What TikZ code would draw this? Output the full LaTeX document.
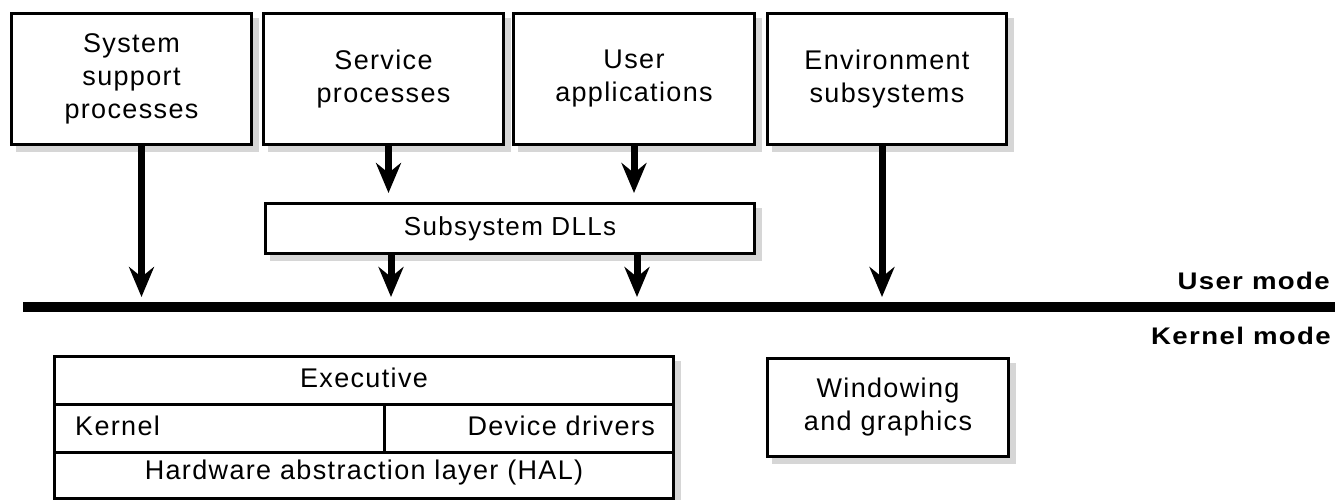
\documentclass[tikz,border=0pt]{standalone}
\usepackage{fontspec}
\setmainfont{Liberation Sans}
\newfontfamily\lab{Liberation Sans}[LetterSpace=5]
\usetikzlibrary{arrows.meta,backgrounds}
\newcommand{\widelabel}[1]{\scalebox{1.15}[1]{\lab\bfseries\fontsize{24}{28}\selectfont #1}}
\tikzset{
  box/.style={draw, line width=3pt, fill=white, inner sep=0pt, anchor=north west,
    align=center, font=\lab\fontsize{27}{33}\selectfont},
  cell/.style={draw, line width=3pt, fill=white, inner sep=0pt, anchor=north west},
  celltext/.style={inner sep=0pt, font=\lab\fontsize{27}{33}\selectfont},
  modelabel/.style={inner sep=0pt, anchor=base east},
  arr/.style={line width=7pt, -{Stealth[length=30pt, width=25pt, inset=10pt]}},
  barline/.style={line width=10pt},
  shade/.style={fill=black!16},
}
\begin{document}
\begin{tikzpicture}[x=1pt, y=-1pt]
\useasboundingbox (0,0) rectangle (1339,499);

% user-mode processes
\node[box, minimum width=240pt, minimum height=131pt] (sys) at (10,12)
  {\raisebox{-6pt}{\parbox{230pt}{\centering System\\support\\processes}}};
\node[box, minimum width=240pt, minimum height=131pt] (svc) at (262,12)
  {\raisebox{-5pt}{\parbox{230pt}{\centering Service\\processes}}};
\node[box, minimum width=241pt, minimum height=131pt] (app) at (512,12)
  {\raisebox{-5pt}{\parbox{230pt}{\centering User\\applications}}};
\node[box, minimum width=239pt, minimum height=131pt] (env) at (766,12)
  {\raisebox{-7pt}{\parbox{230pt}{\centering Environment\\subsystems}}};

% subsystem DLL layer
\node[box, minimum width=489pt, minimum height=50pt,
  font=\lab\fontsize{26}{30}\selectfont] (dll) at (264,202) {Subsystem DLLs};

% user/kernel boundary
\coordinate (barL) at (23,307);
\coordinate (barR) at (1335,307);
\coordinate (tips) at (0,297);
\draw[barline] (barL) -- (barR);
\node[modelabel] (umode) at (1330,289) {\widelabel{User mode}};
\node[modelabel] (kmode) at (1331,344) {\widelabel{Kernel mode}};

% calls into the kernel
\draw[arr] ([xshift=10pt]sys.south) -- ([xshift=10pt]sys.south |- tips);
\draw[arr, shorten >=9pt] ([xshift=5pt]svc.south) -- ([xshift=5pt]svc.south |- dll.north);
\draw[arr, shorten >=9pt] (app.south) -- (app.south |- dll.north);
\draw[arr] ([xshift=-5pt]env.south) -- ([xshift=-5pt]env.south |- tips);
\draw[arr] ([xshift=-119pt]dll.south) -- ([xshift=-119pt]dll.south |- tips);
\draw[arr] ([xshift=127pt]dll.south) -- ([xshift=127pt]dll.south |- tips);

% kernel-mode stack
\node[cell, minimum width=619pt, minimum height=48pt] (exec) at (53,355) {};
\node[celltext] (exectext) at ([yshift=3pt]exec.center) {Executive};
\node[cell, minimum width=619pt, minimum height=48pt] (krow) at (53,403) {};
\coordinate (kdiv) at (384,0);
\draw[line width=3pt] (kdiv |- krow.north) -- (kdiv |- krow.south);
\node[celltext, anchor=west] (kern) at ([xshift=22pt, yshift=3pt]krow.west) {Kernel};
\node[celltext, anchor=east] (drv) at ([xshift=-20pt, yshift=3pt]krow.east) {Device drivers};
\node[cell, minimum width=619pt, minimum height=46pt] (hal) at (53,451) {};
\node[celltext] (haltext) at ([yshift=3pt]hal.center) {Hardware abstraction layer (HAL)};

% windowing
\node[box, minimum width=241pt, minimum height=98pt] (win) at (766,357)
  {\raisebox{-3pt}{\parbox{230pt}{\centering Windowing\\and graphics}}};

% soft shadows behind the boxes
\begin{pgfonlayer}{background}
  \foreach \n in {sys,svc,app,env,dll,win}
    \fill[shade] ([shift={(6pt,-6pt)}]\n.south west) rectangle ([shift={(6pt,-6pt)}]\n.north east);
  \fill[shade] ([shift={(6pt,-6pt)}]hal.south west) rectangle ([shift={(6pt,-6pt)}]exec.north east);
\end{pgfonlayer}
\end{tikzpicture}
\end{document}
